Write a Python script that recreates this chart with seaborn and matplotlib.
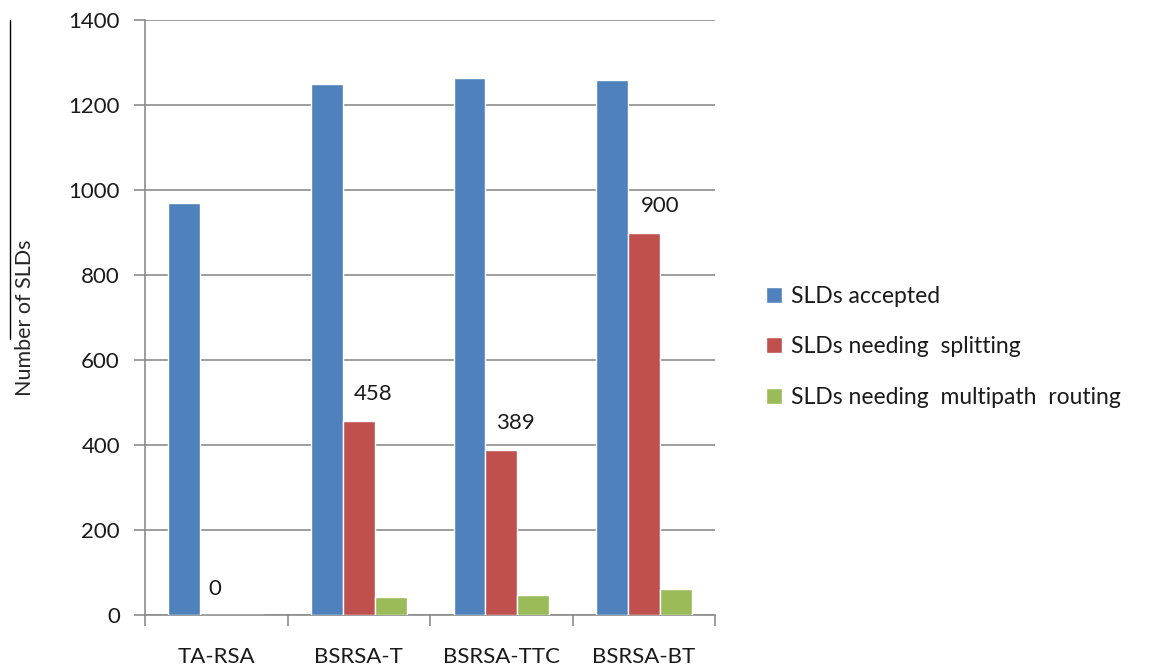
import pandas as pd
import numpy as np
import matplotlib.pyplot as plt
import seaborn as sns
from matplotlib.lines import Line2D

methods = ['TA-RSA', 'BSRSA-T', 'BSRSA-TTC', 'BSRSA-BT']
series = ['SLDs accepted', 'SLDs needing  splitting', 'SLDs needing  multipath  routing']
accepted = [970, 1250, 1264, 1259]
splitting = [0, 458, 389, 900]
multipath = [0, 42, 47, 61]
colors = ['#4F81BD', '#C0504D', '#9BBB59']
# horizontal nudge (points) of each splitting label, as placed in the original
label_shift = [-1, 10, 10, 12]

df = pd.DataFrame({
    'method': methods * 3,
    'series': [s for s in series for _ in methods],
    'count': accepted + splitting + multipath,
})

sns.set_style('white')
plt.rcParams['font.family'] = ['Lato', 'DejaVu Sans']
plt.rcParams['text.color'] = '#1a1a1a'
plt.rcParams['xtick.color'] = '#1a1a1a'
plt.rcParams['ytick.color'] = '#1a1a1a'

fig = plt.figure(figsize=(11.5, 6.71), dpi=100)
ax = fig.add_axes([0.126, 0.083, 0.496, 0.887])

sns.barplot(data=df, x='method', y='count', hue='series', order=methods,
            hue_order=series, palette=colors, saturation=1, width=0.67,
            gap=0, ax=ax, zorder=3)

# data labels for the splitting series
for bar, v, dx in zip(ax.containers[1], splitting, label_shift):
    ax.annotate(str(v), (bar.get_x() + bar.get_width() / 2, v),
                xytext=(dx, 12), textcoords='offset points',
                ha='center', va='bottom', fontsize=16)

ax.set_ylim(0, 1400)
ax.set_yticks(np.arange(0, 1401, 200))
ax.set_xlim(-0.5, 3.5)
ax.yaxis.grid(True, color='#8c8c8c', linewidth=1.2, zorder=0)
ax.set_xlabel('')
ax.set_ylabel('Number of SLDs', fontsize=15.5, labelpad=24)

for side in ['top', 'right']:
    ax.spines[side].set_visible(False)
for side in ['left', 'bottom']:
    ax.spines[side].set_color('#8c8c8c')
    ax.spines[side].set_linewidth(1.2)

ax.tick_params(axis='y', which='major', left=True, length=8, width=1.2,
               color='#8c8c8c', labelsize=16, pad=10)
ax.tick_params(axis='x', which='major', bottom=False, labelsize=16, pad=19)
ax.set_xticks(np.arange(-0.5, 3.6, 1), minor=True)
ax.tick_params(axis='x', which='minor', bottom=True, length=8, width=1.2,
               color='#8c8c8c')

ax.legend(loc='center left', bbox_to_anchor=(0.648, 0.483),
          bbox_transform=fig.transFigure, frameon=False, fontsize=16.5,
          handlelength=0.7, handleheight=0.7, handletextpad=0.4,
          labelspacing=1.3)

# stray rule beside the y label in the original
fig.add_artist(Line2D([0.009, 0.009], [0.97, 0.495], color='black',
                      linewidth=1, transform=fig.transFigure))

plt.savefig('out.png', dpi=100)
plt.close()
